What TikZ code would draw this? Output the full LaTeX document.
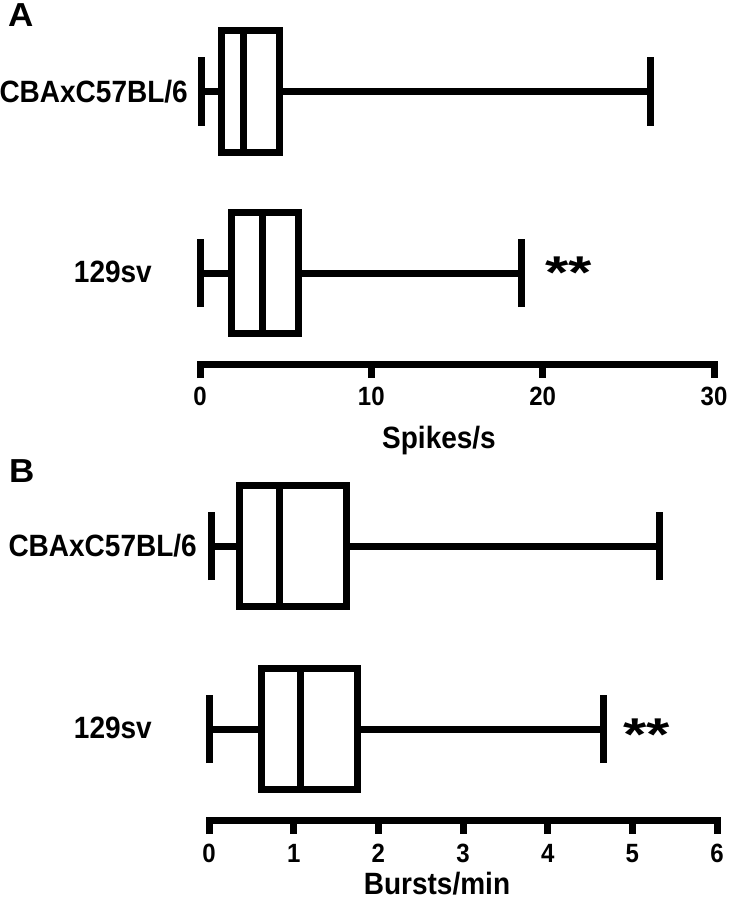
\documentclass[tikz,border=0pt]{standalone}
\usepackage{fontspec}
\setmainfont{Liberation Sans}
\begin{document}
\begin{tikzpicture}[x=1pt,y=1pt,
  bw/.style={line width=7pt,line cap=butt,line join=miter,black},
  lab/.style={inner sep=0pt,font=\fontsize{28}{30}\selectfont\bfseries},
  ticklab/.style={inner sep=0pt,anchor=base,font=\fontsize{24}{26}\selectfont\bfseries},
  panel/.style={inner sep=0pt,anchor=base west,font=\fontsize{35}{37}\selectfont\bfseries},
  star/.style={inner sep=0pt,anchor=base west,font=\fontsize{46}{48}\selectfont\bfseries}]
\newcommand{\vs}[1]{\scalebox{1}[1.1]{#1}}
\newcommand{\boxwhisk}[6]{%
  \draw[bw] (#2,#1-34) -- (#2,#1+34);
  \draw[bw] (#2,#1) -- (#3,#1);
  \draw[bw] (#5,#1) -- (#6,#1);
  \draw[bw] (#6,#1-34) -- (#6,#1+34);
  \draw[bw] (#3,#1-60.5) rectangle (#5,#1+60.5);
  \draw[bw] (#4,#1-60.5) -- (#4,#1+60.5);}
\useasboundingbox (0,0) rectangle (728,-899);
% ---------- Panel A ----------
\node[panel] (pA) at (8,-27) {\scalebox{1}[0.95]{A}};
\node[lab,anchor=base east] (a1lab) at (188,-102) {\vs{CBAxC57BL/6}};
\node[lab,anchor=base east] (a2lab) at (152,-282) {\vs{129sv}};
\boxwhisk{-91.5}{201}{221}{243}{279}{650}
\boxwhisk{-273}{200}{231.7}{262}{298.8}{521}
\node[star] (a2star) at (545,-288) {\scalebox{1.3}[1]{**}};
% axis A
\draw[bw] (200,-378) -- (200,-364.5) -- (714,-364.5) -- (714,-378);
\draw[bw] (371.3,-364.5) -- (371.3,-378);
\draw[bw] (542.7,-364.5) -- (542.7,-378);
\node[ticklab] (ta0) at (200,-405) {\vs{0}};
\node[ticklab] (ta10) at (371.3,-405) {\vs{10}};
\node[ticklab] (ta20) at (542.7,-405) {\vs{20}};
\node[ticklab] (ta30) at (714,-405) {\vs{30}};
\node[lab,anchor=base] (atitle) at (439,-448) {\vs{Spikes/s}};
% ---------- Panel B ----------
\node[panel] (pB) at (9,-482) {\scalebox{1}[0.95]{B}};
\node[lab,anchor=base east] (b1lab) at (197,-556) {\vs{CBAxC57BL/6}};
\node[lab,anchor=base east] (b2lab) at (152,-738) {\vs{129sv}};
\boxwhisk{-546}{211}{239.5}{279.7}{346.3}{659.7}
\boxwhisk{-729}{209.7}{261.1}{300.6}{357.5}{603.8}
\node[star] (b2star) at (623,-750) {\scalebox{1.3}[1]{**}};
% axis B
\draw[bw] (209,-834) -- (209,-820.5) -- (717,-820.5) -- (717,-834);
\foreach \v in {1,...,5} {\draw[bw] (209+84.67*\v,-820.5) -- (209+84.67*\v,-834);}
\foreach \v in {0,...,6} {\node[ticklab] (tb\v) at (209+84.67*\v,-862) {\vs{\v}};}
\node[lab,anchor=base] (btitle) at (437,-894) {\vs{Bursts/min}};
\end{tikzpicture}
\end{document}
